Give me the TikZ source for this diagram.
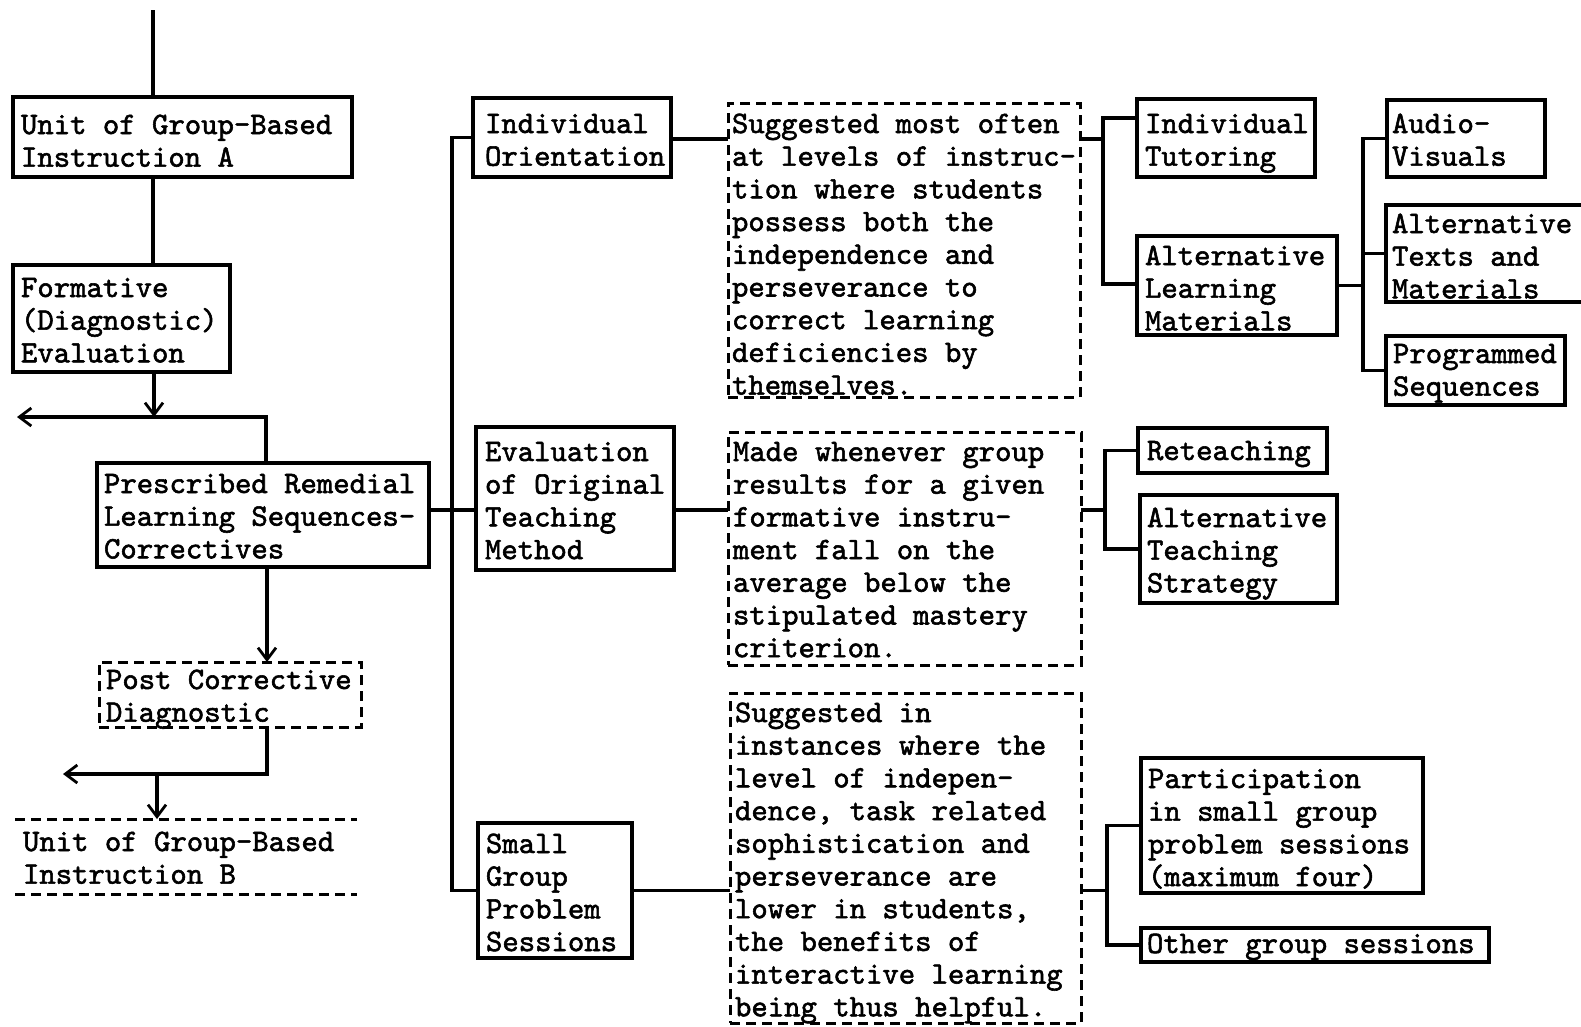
\documentclass[tikz,border=0pt]{standalone}
\usepackage{fontspec}
\setmainfont{lmmono10-regular.otf}[FakeBold=1.8]
\usetikzlibrary{arrows.meta}

% A framed text block given by its corners (x1,y1)-(x2,y2), the baseline of
% its first line and the left edge of its text, all in pixel-like units.
% #1 style, #2 name, #3 x1, #4 y1, #5 x2, #6 y2, #7 first baseline, #8 text x, #9 text
\newcommand{\tbox}[9]{%
  \pgfmathsetmacro\bxW{#5-(#3)}%
  \pgfmathsetmacro\bxH{#7-(#4)}%
  \pgfmathsetmacro\bxD{#6-(#7)}%
  \pgfmathsetmacro\bxL{#8-(#3)-2}%
  \node[#1, anchor=north west, text width=\bxW pt, text height=\bxH pt,
        text depth=\bxD pt] (#2) at (#3,#4)
    {\hbox{\hskip\bxL pt\relax
      \parbox[t]{\bxW pt}{\raggedright\spaceskip=\fontdimen2\font\relax
        \xspaceskip=\fontdimen2\font\relax #9}}};%
}

\tikzset{
  frame/.style={draw, line width=3.1pt, inner sep=0pt, outer sep=0pt},
  dframe/.style={draw, line width=3pt, dash pattern=on 10pt off 6pt,
                 inner sep=0pt, outer sep=0pt},
  plain/.style={inner sep=0pt, outer sep=0pt},
  link/.style={line width=3.1pt},
  dlink/.style={line width=3pt, dash pattern=on 10pt off 6pt},
  arr/.style={line width=3.1pt, -{Straight Barb[length=12pt,width=18pt,line width=2.8pt]}},
}

\begin{document}
\begin{tikzpicture}[x=1pt, y=-1pt, font=\fontsize{31.2}{32.7}\selectfont]
\path[use as bounding box, clip] (0,0) rectangle (1581,1026);
\fill[white] (0,0) rectangle (1581,1026);

% ---- main sequence on the left
\tbox{frame}{uA}{13}{97}{352}{177}{134}{23}{Unit of Group-Based\\Instruction A}
\tbox{frame}{form}{13}{265}{230}{372}{297}{23}{Formative\\(Diagnostic)\\Evaluation}
\tbox{frame}{pr}{97}{463}{429}{567}{493}{106}{Prescribed Remedial\\Learning Sequences-\\Correctives}
\tbox{dframe}{pc}{99}{662}{361}{727}{689}{108}{Post Corrective\\Diagnostic}
\tbox{plain}{uB}{15}{819}{357}{894}{851}{25}{Unit of Group-Based\\Instruction B}

% ---- corrective procedures
\tbox{frame}{io}{473}{98}{671}{177}{133}{487}{Individual\\Orientation}
\tbox{frame}{ev}{476}{427}{674}{570}{461}{487}{Evaluation\\of Original\\Teaching\\Method}
\tbox{frame}{sg}{478}{823}{632}{958}{853}{488}{Small\\Group\\Problem\\Sessions}

% ---- explanatory notes
\tbox{dframe}{d1}{728}{103}{1080}{397}{133}{734}{Suggested most often\\at levels of instruc-\\tion where students\\possess both the\\independence and\\perseverance to\\correct learning\\deficiencies by\\themselves.}
\tbox{dframe}{d2}{728}{432}{1081}{665}{461}{735}{Made whenever group\\results for a given\\formative instru-\\ment fall on the\\average below the\\stipulated mastery\\criterion.}
\tbox{dframe}{d3}{730}{693}{1081}{1023}{722}{737}{Suggested in\\instances where the\\level of indepen-\\dence, task related\\sophistication and\\perseverance are\\lower in students,\\the benefits of\\interactive learning\\being thus helpful.}

% ---- means
\tbox{frame}{it}{1137}{99}{1315}{177}{133}{1147}{Individual\\Tutoring}
\tbox{frame}{alm}{1137}{236}{1337}{335}{265}{1147}{Alternative\\Learning\\Materials}
\tbox{frame}{av}{1387}{100}{1545}{177}{133}{1394}{Audio-\\Visuals}
\tbox{frame}{at}{1386}{205}{1600}{302}{233}{1394}{Alternative\\Texts and\\Materials}
\tbox{frame}{ps}{1386}{336}{1565}{405}{363}{1395}{Programmed\\Sequences}
\tbox{frame}{rt}{1138}{428}{1327}{473}{460}{1149}{Reteaching}
\tbox{frame}{ats}{1140}{495}{1337}{603}{527}{1149}{Alternative\\Teaching\\Strategy}
\tbox{frame}{pt}{1141}{758}{1423}{893}{788}{1150}{Participation\\in small group\\problem sessions\\(maximum four)}
\tbox{frame}{og}{1141}{928}{1489}{962}{953}{1149}{Other group sessions}

% ---- junction points
\coordinate (inA) at (153,10);
\coordinate (jF) at (154,417);
\coordinate (jR) at (266,417);
\coordinate (outA) at (17,417);
\coordinate (cx) at (267,0);
\coordinate (outB) at (63,774);
\coordinate (jB) at (157,774);
\coordinate (trunk) at (452,0);
\coordinate (row) at (0,510);
\coordinate (b1) at (1103,139);
\coordinate (b1t) at (1103,118);
\coordinate (b1b) at (1103,284);
\coordinate (b2) at (1363,0);
\coordinate (b3) at (1105,0);
\coordinate (b4) at (1107,0);

% ---- left column connectors
\draw[link] (inA) -- (uA.north -| inA);
\draw[link] (uA.south -| inA) -- (form.north -| inA);
\draw[arr] (form.south -| jF) -- (jF);
\draw[arr] (pr.north -| jR) -- (jR) -- (outA);
\draw[arr] (pr.south -| cx) -- (pc.north -| cx);
\draw[arr] (pc.south -| cx) |- (outB);
\draw[arr] (jB) -- (uB.north -| jB);
\draw[dlink] (uB.north west) -- (uB.north east);
\draw[dlink] (uB.south west) -- (uB.south east);

% ---- trunk to the corrective procedures
\draw[link] (io.west) -- (io.west -| trunk) -- (sg.west -| trunk) -- (sg.west);
\draw[link] (pr.east |- row) -- (ev.west |- row);

% ---- procedures to notes
\draw[link] (io.east |- b1) -- (d1.west |- b1);
\draw[link] (ev.east |- row) -- (d2.west |- row);
\draw[link] (sg.east) -- (sg.east -| d3.west);

% ---- notes to means
\draw[link] (d1.east |- b1) -- (b1);
\draw[link] (it.west |- b1t) -- (b1t) -- (b1b) -- (alm.west |- b1b);
\draw[link] (alm.east) -- (alm.east -| b2);
\draw[link] (av.west) -- (av.west -| b2) -- (ps.west -| b2) -- (ps.west);
\draw[link] (at.west) -- (at.west -| b2);
\draw[link] (d2.east |- row) -- (b3 |- row);
\draw[link] (rt.west) -- (rt.west -| b3) -- (ats.west -| b3) -- (ats.west);
\draw[link] (d3.east |- sg.east) -- (b4 |- sg.east);
\draw[link] (pt.west) -- (pt.west -| b4) -- (og.west -| b4) -- (og.west);
\end{tikzpicture}
\end{document}
